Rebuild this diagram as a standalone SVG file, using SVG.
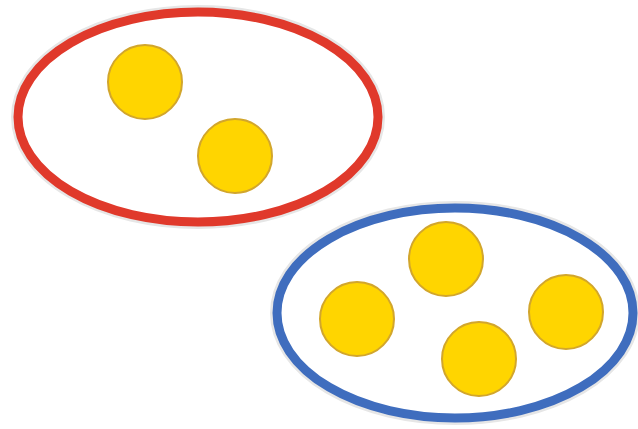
<svg xmlns="http://www.w3.org/2000/svg" width="638" height="429" viewBox="0 0 638 429">
<defs>
<style>
.coin{fill:#FFD500;stroke:#D2A62C;stroke-width:2}
.halo{fill:none;stroke:#E6E6E6;stroke-width:14}
</style>
</defs>
<rect width="638" height="429" fill="#FFFFFF"/>
<g id="red-set">
<ellipse class="halo" cx="198" cy="117" rx="180" ry="105"/>
<ellipse cx="198" cy="117" rx="180" ry="105" fill="#FFFFFF" stroke="#E0392B" stroke-width="9"/>
</g>
<g id="blue-set">
<ellipse class="halo" cx="455" cy="313" rx="178" ry="105"/>
<ellipse cx="455" cy="313" rx="178" ry="105" fill="#FFFFFF" stroke="#3F6DBE" stroke-width="9"/>
</g>
<g id="coin-1"><circle class="coin" cx="145" cy="82" r="37"/></g>
<g id="coin-2"><circle class="coin" cx="235" cy="156" r="37"/></g>
<g id="coin-3"><circle class="coin" cx="446" cy="259" r="37"/></g>
<g id="coin-4"><circle class="coin" cx="357" cy="319" r="37"/></g>
<g id="coin-5"><circle class="coin" cx="479" cy="359" r="37"/></g>
<g id="coin-6"><circle class="coin" cx="566" cy="312" r="37"/></g>
<g id="connectors"></g>
</svg>
